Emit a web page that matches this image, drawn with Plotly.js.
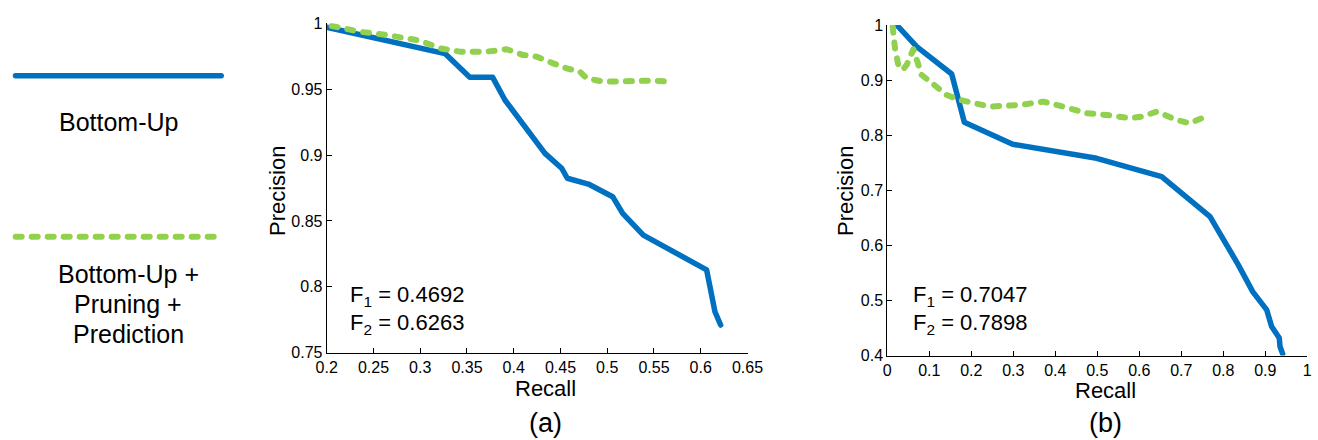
<!DOCTYPE html>
<html>
<head>
<meta charset="utf-8">
<script src="https://cdn.plot.ly/plotly-3.0.1.min.js"></script>
<style>
  html, body { margin: 0; padding: 0; background: #fff; }
  #chart { width: 1318px; height: 440px; }
  path.js-line, .shapelayer path { stroke-linecap: round !important; stroke-linejoin: round !important; }
</style>
</head>
<body>
<div id="chart"></div>
<script>
// ---- Data ----
// Panel (a)
const recallA_bottomUp = [0.2, 0.3265, 0.353, 0.3775, 0.3906, 0.4334, 0.4513, 0.4573, 0.4798, 0.5058, 0.5165, 0.5386, 0.6063, 0.6152, 0.6213];
const precisionA_bottomUp = [0.997, 0.977, 0.959, 0.959, 0.9418, 0.9013, 0.890, 0.8824, 0.878, 0.8684, 0.8558, 0.8393, 0.8128, 0.7811, 0.771];
const recallA_pruned = [0.2053, 0.2356, 0.2642, 0.2998, 0.3212, 0.3425, 0.3711, 0.3925, 0.4102, 0.4245, 0.4423, 0.4566, 0.4708, 0.478, 0.4958, 0.5208, 0.5492, 0.5653, 0.5689];
const precisionA_pruned = [0.998, 0.9936, 0.9911, 0.9868, 0.981, 0.9785, 0.9785, 0.9803, 0.9759, 0.9747, 0.9696, 0.9658, 0.9633, 0.9583, 0.9557, 0.9562, 0.9565, 0.9557, 0.953];
// Panel (b)
const recallB_bottomUp = [0.0224, 0.07, 0.1533, 0.1834, 0.2985, 0.4985, 0.6533, 0.7683, 0.8357, 0.870, 0.9033, 0.915, 0.9333, 0.935, 0.9414];
const precisionB_bottomUp = [1.0, 0.9607, 0.911, 0.8235, 0.7835, 0.758, 0.7248, 0.6522, 0.5646, 0.516, 0.4829, 0.4526, 0.4316, 0.4163, 0.403];
const recallB_pruned = [0.0128, 0.0183, 0.0262, 0.0366, 0.0461, 0.062, 0.0818, 0.1095, 0.1414, 0.173, 0.2048, 0.2445, 0.316, 0.3714, 0.419, 0.4747, 0.5223, 0.5779, 0.6057, 0.6414, 0.689, 0.7198, 0.7486];
const precisionB_pruned = [0.997, 0.9577, 0.9274, 0.9184, 0.9274, 0.9560, 0.9093, 0.8911, 0.873, 0.8639, 0.859, 0.8518, 0.8549, 0.8609, 0.8518, 0.8398, 0.8367, 0.8307, 0.8336, 0.8427, 0.8277, 0.8216, 0.8307];

const seriesNames = ["Bottom-Up", "Bottom-Up + Pruning + Prediction"];
const legendLines = [["Bottom-Up"], ["Bottom-Up +", "Pruning +", "Prediction"]];
const panelLabels = ["(a)", "(b)"];
const scoresA = ["F<sub>1</sub> = 0.4692", "F<sub>2</sub> = 0.6263"];
const scoresB = ["F<sub>1</sub> = 0.7047", "F<sub>2</sub> = 0.7898"];
const xTitle = "Recall";
const yTitle = "Precision";

// ---- Styling ----
const W = 1318, H = 440;
const BLUE = "#0070C0", GREEN = "#92D050";
const FONT = "Liberation Sans, Arial, Helvetica, sans-serif";
const px = v => v / W;
const py = v => 1 - v / H;

const blueLine = {color: BLUE, width: 5.5};
const greenLine = {color: GREEN, width: 6, dash: "6px,10px"};

const traces = [
  {x: recallA_bottomUp, y: precisionA_bottomUp, xaxis: "x", yaxis: "y", mode: "lines", name: seriesNames[0], line: blueLine},
  {x: recallA_pruned, y: precisionA_pruned, xaxis: "x", yaxis: "y", mode: "lines", name: seriesNames[1], line: greenLine},
  {x: recallB_bottomUp, y: precisionB_bottomUp, xaxis: "x2", yaxis: "y2", mode: "lines", name: seriesNames[0], line: blueLine},
  {x: recallB_pruned, y: precisionB_pruned, xaxis: "x2", yaxis: "y2", mode: "lines", name: seriesNames[1], line: greenLine}
];

const axisCommon = {
  showgrid: false, zeroline: false, showline: true, linecolor: "#000", linewidth: 1,
  ticks: "inside", ticklen: 5, tickcolor: "#000", tickwidth: 1, mirror: false,
  tickfont: {family: FONT, size: 16, color: "#000"}, fixedrange: true
};

function ann(text, x, y, size, opts) {
  return Object.assign({
    text: text, xref: "paper", yref: "paper", x: px(x), y: py(y),
    showarrow: false, xanchor: "center", yanchor: "middle",
    font: {family: FONT, size: size, color: "#000"}
  }, opts || {});
}

const annotations = [
  // axis titles
  ann(yTitle, 277, 191, 22, {textangle: -90}),
  ann(xTitle, 545.7, 388, 22),
  ann(yTitle, 845, 191, 22, {textangle: -90}),
  ann(xTitle, 1105, 390, 22),
  // panel labels
  ann(panelLabels[0], 545, 423, 27),
  ann(panelLabels[1], 1105.5, 423, 27),
  // F scores
  ann(scoresA[0], 348, 296, 22, {xanchor: "left"}),
  ann(scoresA[1], 348, 324, 22, {xanchor: "left"}),
  ann(scoresB[0], 911, 296, 22, {xanchor: "left"}),
  ann(scoresB[1], 911, 324, 22, {xanchor: "left"}),
  // legend labels
  ann(legendLines[0][0], 118, 121.5, 25),
  ann(legendLines[1][0], 128, 274, 25),
  ann(legendLines[1][1], 128, 304, 25),
  ann(legendLines[1][2], 128, 334, 25)
];

const shapes = [
  {type: "line", xref: "paper", yref: "paper", x0: px(15.5), x1: px(221.2), y0: py(75.7), y1: py(75.7), line: blueLine},
  {type: "line", xref: "paper", yref: "paper", x0: px(15.7), x1: px(220), y0: py(236.7), y1: py(236.7), line: greenLine}
];

const layout = {
  width: W, height: H,
  margin: {l: 0, r: 0, t: 0, b: 0, pad: 0},
  paper_bgcolor: "#fff", plot_bgcolor: "#fff",
  showlegend: false,
  font: {family: FONT, color: "#000"},
  xaxis: Object.assign({}, axisCommon, {domain: [px(326.7), px(747.5)], range: [0.2, 0.65], dtick: 0.05, tick0: 0.2, anchor: "y"}),
  yaxis: Object.assign({}, axisCommon, {domain: [py(352.7), py(23.3)], range: [0.75, 1], dtick: 0.05, tick0: 0.75, anchor: "x"}),
  xaxis2: Object.assign({}, axisCommon, {domain: [px(887.3), px(1307.3)], range: [0, 1], dtick: 0.1, tick0: 0, anchor: "y2"}),
  yaxis2: Object.assign({}, axisCommon, {domain: [py(355.5), py(25)], range: [0.4, 1], dtick: 0.1, tick0: 0.4, anchor: "x2"}),
  annotations: annotations,
  shapes: shapes
};

function finish() {
  const root = document.getElementById("chart");
  root.querySelectorAll("path.js-line, .shapelayer path").forEach(p => {
    p.style.strokeLinecap = "round";
    p.style.strokeLinejoin = "round";
  });
  // drop empty placeholder text nodes (unused title slots)
  root.querySelectorAll("text").forEach(t => {
    if (!t.textContent || !t.textContent.trim()) t.remove();
  });
}

Plotly.newPlot("chart", traces, layout, {staticPlot: true, displayModeBar: false}).then(finish);
</script>
</body>
</html>
